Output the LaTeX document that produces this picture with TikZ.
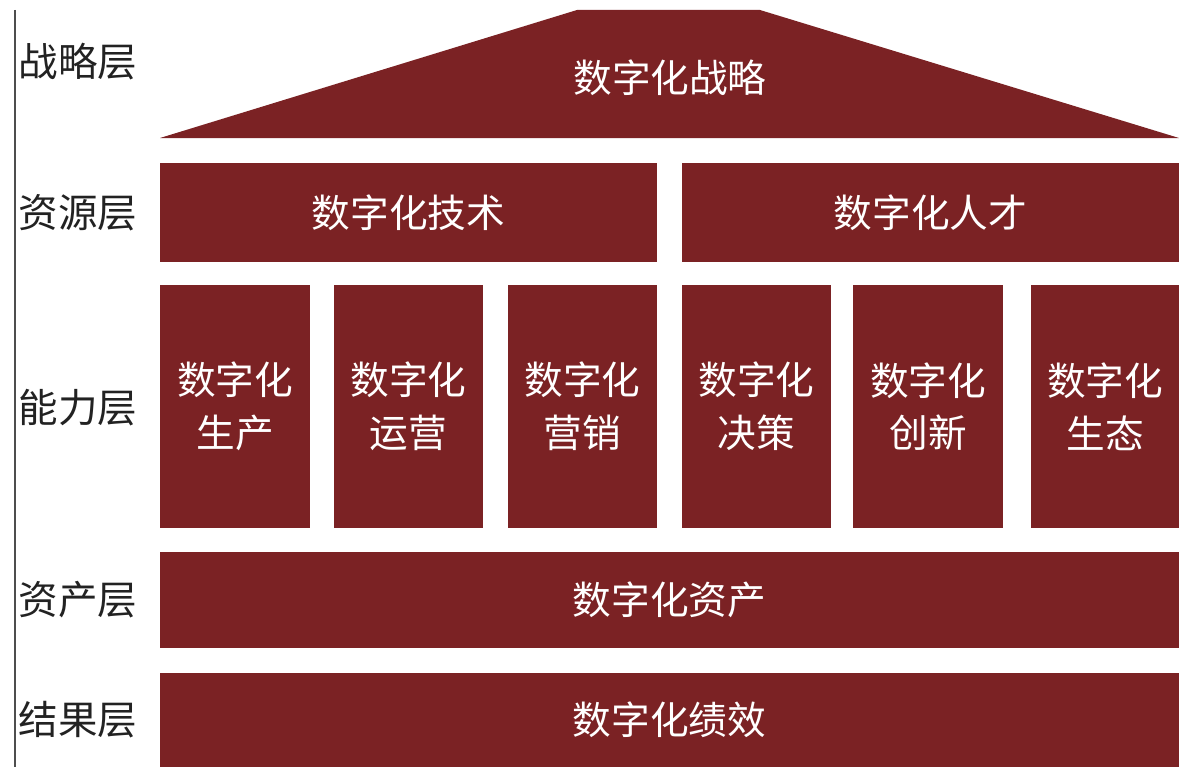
\documentclass[tikz,border=0pt]{standalone}
\usepackage{fontspec}
\setmainfont{Noto Sans CJK SC}
\usetikzlibrary{positioning}
\definecolor{darkred}{RGB}{123,34,36}
\definecolor{labelgray}{RGB}{34,34,34}

\begin{document}
\begin{tikzpicture}[x=0.02cm,y=-0.02cm,
					block/.style={fill=darkred,text=white,inner sep=0pt,align=center,
						font=\fontsize{22}{30}\selectfont},
					layer/.style={text=labelgray,inner sep=0pt,font=\fontsize{22.5}{26}\selectfont}]
					\useasboundingbox (0,0) rectangle (1179,767);
					\draw[labelgray!80,line width=1pt] (15,10) -- (15,767);
					
					% layer names
					\node[layer] (strat)  at (78,62)  {战略层};
					\node[layer] (res)    at (78,213) {资源层};
					\node[layer] (cap)    at (78,408) {能力层};
					\node[layer] (asset)  at (78,600) {资产层};
					\node[layer] (result) at (78,720) {结果层};
					
					% roof
					\fill[darkred] (160,138) -- (577,10) -- (760,10) -- (1179,138) -- cycle;
					\node[block,fill=none] (roof) at (670,78) {数字化战略};
					
					\node[block,minimum width=9.94cm,minimum height=1.98cm] (tech)   at (408.5,212.5) {数字化技术};
					\node[block,minimum width=9.94cm,minimum height=1.98cm] (talent) at (930.5,212.5) {数字化人才};
					
					\node[block,minimum width=3cm,minimum height=4.86cm] (prod)  at (235,406.5)   {数字化\\生产};
					\node[block,minimum width=2.98cm,minimum height=4.86cm] (oper)  at (408.5,406.5) {数字化\\运营};
					\node[block,minimum width=2.98cm,minimum height=4.86cm] (mark)  at (582.5,406.5) {数字化\\营销};
					\node[block,minimum width=2.98cm,minimum height=4.86cm] (decis) at (756.5,406.5) {数字化\\决策};
					\node[block,minimum width=3cm,minimum height=4.86cm] (innov) at (928,406.5)   {数字化\\创新};
					\node[block,minimum width=2.96cm,minimum height=4.86cm] (eco)   at (1105,406.5)  {数字化\\生态};
					
					\node[block,minimum width=20.38cm,minimum height=1.92cm] (assets) at (669.5,600) {数字化资产};
					\node[block,minimum width=20.38cm,minimum height=1.88cm] (perf)   at (669.5,720) {数字化绩效};
\end{tikzpicture}
\end{document}
